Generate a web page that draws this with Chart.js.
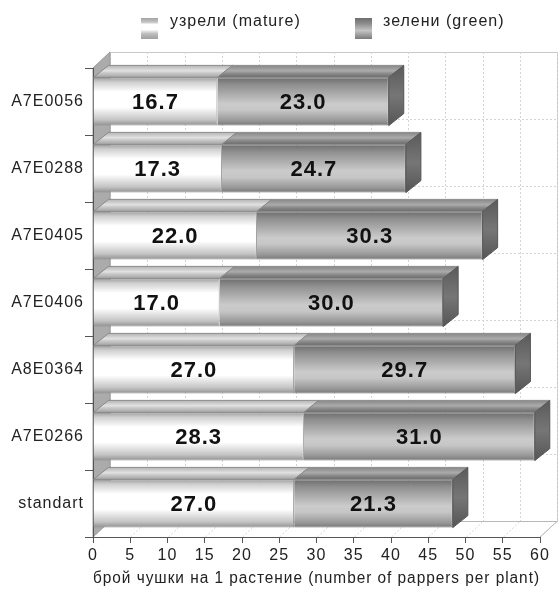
<!DOCTYPE html>
<html>
<head>
<meta charset="utf-8">
<script src="https://cdn.jsdelivr.net/npm/chart.js@4.4.1/dist/chart.umd.min.js"></script>
<style>
  html, body { margin: 0; padding: 0; background: #fff; }
  #c { display: block; }
</style>
</head>
<body>
<canvas id="c" width="560" height="593"></canvas>
<script>
// data
const categories = ['A7E0056', 'A7E0288', 'A7E0405', 'A7E0406', 'A8E0364', 'A7E0266', 'standart'];
const matureValues = [16.7, 17.3, 22.0, 17.0, 27.0, 28.3, 27.0];
const greenValues = [23.0, 24.7, 30.3, 30.0, 29.7, 31.0, 21.3];
const seriesNames = ['узрели (mature)', 'зелени (green)'];
const axisTitle = 'брой чушки на 1 растение (number of pappers per plant)';

const FONT = "'Liberation Sans', Arial, sans-serif";
// 3D depth of the box and of the bars
const WALL = { dx: 17, dy: -16 };
const BAR = { dx: 15, dy: -12 };

const frontStops = [
  [[0, '#9c9c9c'], [0.1, '#cfcfcf'], [0.3, '#ffffff'], [0.62, '#ffffff'], [0.88, '#c4c4c4'], [1, '#8e8e8e']],
  [[0, '#6c6c6c'], [0.15, '#8e8e8e'], [0.55, '#cbcbcb'], [0.68, '#c6c6c6'], [0.9, '#979797'], [1, '#767676']]
];
const topStops = [
  [[0, '#b4b4b4'], [0.45, '#e2e2e2'], [0.6, '#cccccc'], [1, '#a2a2a2']],
  [[0, '#878787'], [0.45, '#ababab'], [0.65, '#8e8e8e'], [1, '#6a6a6a']]
];
const legendStops = [
  [[0, '#a4a4a4'], [0.2, '#c4c4c4'], [0.3, '#ffffff'], [0.55, '#ffffff'], [0.75, '#bdbdbd'], [1, '#a0a0a0']],
  [[0, '#6e6e6e'], [0.25, '#8a8a8a'], [0.6, '#c4c4c4'], [1, '#7a7a7a']]
];

function vGrad(ctx, y0, y1, stops) {
  const g = ctx.createLinearGradient(0, y0, 0, y1);
  stops.forEach(s => g.addColorStop(s[0], s[1]));
  return g;
}

function frontColor(dsIndex) {
  return function(context) {
    const chart = context.chart;
    const y = chart.scales.y;
    if (!chart.chartArea || !y) return '#ccc';
    const cy = y.getPixelForValue(context.dataIndex);
    const half = (y.height / categories.length) * 0.72 / 2;
    return vGrad(chart.ctx, cy - half, cy + half, frontStops[dsIndex]);
  };
}

function poly(ctx, pts, fill, stroke) {
  ctx.beginPath();
  ctx.moveTo(pts[0][0], pts[0][1]);
  for (let i = 1; i < pts.length; i++) ctx.lineTo(pts[i][0], pts[i][1]);
  ctx.closePath();
  if (fill) { ctx.fillStyle = fill; ctx.fill(); }
  if (stroke) { ctx.strokeStyle = stroke; ctx.lineWidth = 1; ctx.stroke(); }
}

const box3d = {
  id: 'box3d',
  beforeLayout(chart) { chart.ctx.letterSpacing = '1px'; },
  beforeDraw(chart) {
    const ctx = chart.ctx;
    ctx.letterSpacing = '1px';
    const { left: L, right: R, top: T, bottom: B } = chart.chartArea;
    const xs = chart.scales.x;
    const n = categories.length;
    const h = (B - T) / n;
    ctx.save();
    // back wall
    ctx.fillStyle = '#fff';
    ctx.fillRect(L + WALL.dx, T + WALL.dy, R - L, B - T);
    ctx.strokeStyle = '#c8c8c8';
    ctx.lineWidth = 1;
    ctx.strokeRect(L + WALL.dx + 0.5, T + WALL.dy + 0.5, R - L, B - T);
    ctx.setLineDash([2, 2]);
    ctx.strokeStyle = '#d4d4d4';
    for (let v = 0; v <= 60; v += 5) {
      const px = Math.round(xs.getPixelForValue(v)) + WALL.dx + 0.5;
      ctx.beginPath();
      ctx.moveTo(px, T + WALL.dy);
      ctx.lineTo(px, B + WALL.dy);
      ctx.stroke();
      // floor lines
      ctx.beginPath();
      ctx.moveTo(px - WALL.dx, B);
      ctx.lineTo(px, B + WALL.dy);
      ctx.stroke();
    }
    for (let i = 1; i < n; i++) {
      const py = Math.round(T + i * h + WALL.dy) + 0.5;
      ctx.beginPath();
      ctx.moveTo(L + WALL.dx, py);
      ctx.lineTo(R + WALL.dx, py);
      ctx.stroke();
    }
    ctx.setLineDash([]);
    // left wall
    poly(ctx, [[L, T], [L + WALL.dx, T + WALL.dy], [L + WALL.dx, B + WALL.dy], [L, B]], '#ababab', '#9a9a9a');
    // floor edges
    ctx.strokeStyle = '#b8b8b8';
    ctx.beginPath();
    ctx.moveTo(L + WALL.dx, B + WALL.dy + 0.5);
    ctx.lineTo(R + WALL.dx, B + WALL.dy + 0.5);
    ctx.lineTo(R, B);
    ctx.stroke();
    ctx.restore();
  },
  afterDatasetsDraw(chart) {
    const ctx = chart.ctx;
    ctx.save();
    const last = chart.data.datasets.length - 1;
    chart.data.datasets.forEach((ds, di) => {
      const meta = chart.getDatasetMeta(di);
      meta.data.forEach((el, j) => {
        const x0 = el.base, x1 = el.x;
        const y0 = el.y - el.height / 2, y1 = el.y + el.height / 2;
        poly(ctx, [[x0, y0], [x1, y0], [x1 + BAR.dx, y0 + BAR.dy], [x0 + BAR.dx, y0 + BAR.dy]],
          vGrad(ctx, y0 + BAR.dy, y0, topStops[di]), '#8a8a8a');
        if (di === last) {
          const sg = vGrad(ctx, y0 + BAR.dy, y1, [[0, '#5a5a5a'], [0.5, '#767676'], [1, '#555555']]);
          poly(ctx, [[x1, y0], [x1 + BAR.dx, y0 + BAR.dy], [x1 + BAR.dx, y1 + BAR.dy], [x1, y1]], sg, '#555');
        }
      });
    });
    // value labels
    ctx.font = 'bold 22px ' + FONT;
    ctx.fillStyle = '#111';
    ctx.textAlign = 'center';
    ctx.textBaseline = 'middle';
    chart.data.datasets.forEach((ds, di) => {
      chart.getDatasetMeta(di).data.forEach((el, j) => {
        ctx.fillText(ds.data[j].toFixed(1), (el.base + el.x) / 2, el.y + 1);
      });
    });
    ctx.restore();
  },
  afterDraw(chart) {
    // legend
    const ctx = chart.ctx;
    ctx.save();
    const items = [{ x: 141, tx: 170 }, { x: 355, tx: 383 }];
    items.forEach((it, i) => {
      ctx.fillStyle = vGrad(ctx, 18, 39, legendStops[i]);
      ctx.fillRect(it.x, 18, 17, 21);
      ctx.font = '16px ' + FONT;
      ctx.fillStyle = '#222';
      ctx.textAlign = 'left';
      ctx.textBaseline = 'middle';
      ctx.fillText(seriesNames[i], it.tx, 22);
    });
    ctx.restore();
  }
};

new Chart(document.getElementById('c'), {
  type: 'bar',
  data: {
    labels: categories,
    datasets: [
      { label: seriesNames[0], data: matureValues, backgroundColor: frontColor(0), borderColor: '#8c8c8c', borderWidth: 1 },
      { label: seriesNames[1], data: greenValues, backgroundColor: frontColor(1), borderColor: '#6e6e6e', borderWidth: 1 }
    ]
  },
  options: {
    indexAxis: 'y',
    responsive: false,
    animation: false,
    devicePixelRatio: 1,
    layout: { padding: { top: 68, right: 20, left: 0, bottom: 0 } },
    barPercentage: 0.72,
    categoryPercentage: 1,
    plugins: { legend: { display: false }, tooltip: { enabled: false } },
    scales: {
      x: {
        stacked: true,
        min: 0,
        max: 60,
        ticks: { stepSize: 5, font: { size: 16, family: FONT }, color: '#222', padding: 3, maxRotation: 0 },
        grid: { drawOnChartArea: false, tickLength: 6, color: '#555' },
        border: { color: '#555' },
        title: { display: true, text: axisTitle, font: { size: 16, family: FONT }, color: '#222', padding: { top: 0, bottom: 5 } },
        afterFit: s => { s.height = 56; }
      },
      y: {
        stacked: true,
        ticks: { font: { size: 16, family: FONT }, color: '#222', padding: 1 },
        grid: { drawOnChartArea: false, tickLength: 8, color: '#555', offset: true },
        border: { color: '#555' },
        afterFit: s => { s.width = 93; }
      }
    }
  },
  plugins: [box3d]
});
</script>
</body>
</html>
